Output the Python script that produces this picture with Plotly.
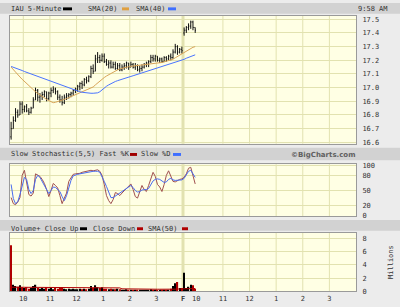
import plotly.graph_objects as go

# ---------------- data ----------------
opens = [16.64,16.70,16.76,16.82,16.80,16.88,16.84,16.86,16.83,16.82,16.85,16.91,16.98,16.93,16.94,16.95,16.97,16.92,16.96,16.98,
         16.99,16.97,16.93,16.91,16.89,16.93,16.94,16.95,16.96,16.98,16.99,17.01,17.03,17.02,17.06,17.05,17.08,17.14,17.12,17.21,
         17.22,17.20,17.23,17.19,17.17,17.18,17.15,17.17,17.14,17.16,17.13,17.15,17.16,17.18,17.15,17.17,17.15,17.16,17.13,17.14,
         17.15,17.17,17.18,17.19,17.22,17.21,17.23,17.20,17.21,17.19,17.22,17.21,17.23,17.22,17.26,17.30,17.26,17.28,
         17.40,17.42,17.44,17.45,17.48,17.44]
highs = [16.75,16.79,16.85,16.84,16.90,16.90,16.87,16.88,16.85,16.86,16.93,17.00,16.99,16.96,16.97,16.98,16.97,16.97,17.00,17.01,
         17.00,16.98,16.95,16.94,16.95,16.96,16.96,16.97,16.99,17.00,17.02,17.04,17.05,17.07,17.08,17.09,17.16,17.17,17.24,17.26,
         17.24,17.25,17.25,17.21,17.20,17.20,17.19,17.19,17.18,17.18,17.17,17.18,17.19,17.18,17.19,17.18,17.18,17.17,17.16,17.17,
         17.18,17.19,17.20,17.24,17.24,17.24,17.23,17.22,17.22,17.23,17.23,17.24,17.25,17.28,17.32,17.31,17.29,17.30,
         17.44,17.45,17.47,17.49,17.49,17.44]
lows = [16.62,16.70,16.75,16.78,16.80,16.81,16.82,16.82,16.80,16.81,16.85,16.91,16.90,16.89,16.91,16.93,16.90,16.91,16.93,16.96,
        16.95,16.91,16.89,16.87,16.88,16.91,16.92,16.93,16.94,16.96,16.97,16.98,16.99,17.01,17.03,17.04,17.07,17.10,17.12,17.18,
        17.18,17.19,17.18,17.16,17.14,17.14,17.14,17.13,17.13,17.12,17.12,17.13,17.14,17.13,17.15,17.14,17.13,17.12,17.11,17.12,
        17.14,17.15,17.15,17.18,17.19,17.19,17.19,17.18,17.18,17.19,17.19,17.20,17.20,17.21,17.25,17.24,17.25,17.25,
        17.38,17.40,17.42,17.43,17.42,17.40]
closes = [16.70,16.76,16.82,16.80,16.88,16.84,16.86,16.83,16.82,16.85,16.91,16.98,16.93,16.94,16.95,16.97,16.92,16.96,16.98,16.99,
          16.97,16.93,16.91,16.89,16.93,16.94,16.95,16.96,16.98,16.99,17.01,17.03,17.02,17.06,17.05,17.08,17.14,17.12,17.21,17.22,
          17.20,17.23,17.19,17.17,17.18,17.15,17.17,17.14,17.16,17.13,17.15,17.16,17.18,17.15,17.17,17.15,17.16,17.13,17.14,17.15,
          17.17,17.18,17.19,17.22,17.21,17.23,17.20,17.21,17.19,17.22,17.21,17.23,17.22,17.26,17.30,17.26,17.28,17.27,
          17.42,17.44,17.45,17.48,17.44,17.42]
prev_close = 16.75

sma20 = [17.150,17.130,17.112,17.095,17.078,17.061,17.045,17.028,17.012,16.996,16.982,16.970,16.958,16.946,16.935,16.924,16.914,16.905,16.897,16.890,
         16.893,16.897,16.902,16.908,16.914,16.920,16.927,16.934,16.941,16.948,16.955,16.961,16.967,16.973,16.979,16.985,16.992,17.005,17.020,17.035,
         17.050,17.062,17.074,17.085,17.095,17.105,17.114,17.122,17.130,17.137,17.142,17.146,17.150,17.153,17.156,17.158,17.160,17.162,17.164,17.165,
         17.166,17.167,17.168,17.170,17.172,17.175,17.178,17.181,17.184,17.188,17.192,17.196,17.200,17.208,17.218,17.228,17.238,17.246,
         17.258,17.268,17.278,17.287,17.295,17.300]
sma40 = [17.155,17.150,17.144,17.138,17.131,17.125,17.118,17.112,17.105,17.099,17.092,17.086,17.080,17.074,17.068,17.062,17.056,17.050,17.044,17.038,
         17.032,17.026,17.020,17.014,17.008,17.002,16.996,16.990,16.985,16.980,16.975,16.970,16.966,16.963,16.961,16.960,16.959,16.959,16.960,16.962,
         16.970,16.985,16.998,17.010,17.020,17.030,17.038,17.045,17.051,17.057,17.062,17.067,17.072,17.077,17.082,17.087,17.092,17.097,17.102,17.107,
         17.112,17.117,17.122,17.127,17.132,17.137,17.142,17.147,17.152,17.157,17.162,17.167,17.172,17.177,17.182,17.187,17.192,17.197,
         17.207,17.215,17.222,17.229,17.235,17.240]

fast_k = [36,24,22,27,36,80,90,67,42,39,45,83,80,78,72,64,52,38,50,64,
          60,55,40,24,35,45,68,76,82,83,83,84,86,87,88,88,90,89,90,91,
          88,80,62,40,30,24,32,46,44,40,45,50,54,58,63,52,38,35,50,60,
          52,48,60,75,86,78,62,57,48,62,80,89,78,68,67,70,72,73,
          76,83,94,96,80,63]
slow_d = [62,34,24,28,42,60,76,72,52,44,50,72,80,76,68,62,52,44,50,57,
          56,52,48,38,30,40,56,70,79,81,82,83,84,85,86,87,87,88,88,88,
          86,78,68,58,46,36,36,39,42,44,47,50,54,57,60,56,50,47,48,51,
          51,52,54,62,69,72,73,72,68,66,67,72,74,71,70,70,71,71,
          74,80,88,90,84,76]

volume = [7.0,1.0,0.8,0.7,0.9,0.6,0.5,0.6,0.4,0.5,0.8,1.0,0.5,0.4,0.5,0.4,0.6,0.4,0.5,0.3,
          0.5,0.4,0.5,0.6,0.4,0.3,0.4,0.3,0.4,0.3,0.3,0.4,0.3,0.4,0.3,0.4,0.8,0.5,0.9,0.6,
          0.5,0.6,0.4,0.4,0.3,0.4,0.3,0.3,0.4,0.3,0.2,0.2,0.3,0.2,0.2,0.2,0.2,0.2,0.2,0.2,
          0.2,0.2,0.2,0.3,0.2,0.2,0.2,0.2,0.2,0.2,0.2,0.2,0.4,0.8,1.2,1.4,0.5,0.5,
          2.8,0.5,0.7,1.0,0.9,0.4]
vol_sma50 = [0.62,0.62,0.62,0.62,0.61,0.61,0.61,0.61,0.60,0.60,0.60,0.60,0.60,0.59,0.59,0.59,0.59,0.58,0.58,0.58,
             0.58,0.57,0.57,0.57,0.57,0.56,0.56,0.56,0.56,0.55,0.55,0.55,0.55,0.55,0.54,0.54,0.54,0.54,0.54,0.53,
             0.53,0.53,0.53,0.53,0.52,0.52,0.52,0.52,0.51,0.51,0.37,0.36,0.36,0.35,0.35,0.34,0.34,0.34,0.33,0.33,
             0.33,0.32,0.32,0.32,0.31,0.31,0.31,0.31,0.30,0.30,0.30,0.30,0.30,0.31,0.32,0.34,0.34,0.34,
             0.39,0.39,0.40,0.41,0.42,0.42]

tick_vals = [0.5,1.5,2.5,3.5,4.5,5.5,6.5,7,8,9,10,11,12]
tick_text = ['10','11','12','1','2','3','<b>F</b>','10','11','12','1','2','3']
price_ticks = [16.6,16.7,16.8,16.9,17.0,17.1,17.2,17.3,17.4,17.5]
stoch_ticks = [0,20,50,80,100]
vol_ticks = [0,2,4,6,8]

# x position of each 5-minute bar in hours since Thursday 9:30
xs = [(i + 0.5) / 12 for i in range(len(closes))]

# ---------------- style ----------------
FONT = "DejaVu Sans Mono"
TXT = "#333333"
GRID = "#e2e2b0"
PLOTBG = "#ffffe4"
BAND = "#d2d2d2"
PAPER = "#ececec"
W, H = 400, 307

def px(x):
    return x / W

def py(y):
    return 1 - y / H

prev = [prev_close] + closes[:-1]
vol_colors = ["#000000" if c >= p else "#b00000" for c, p in zip(closes, prev)]

fig = go.Figure()
fig.add_trace(go.Ohlc(x=xs, open=opens, high=highs, low=lows, close=closes,
                      increasing_line_color="#111111", decreasing_line_color="#111111",
                      line_width=1, tickwidth=0.35, xaxis="x", yaxis="y", hoverinfo="skip"))
fig.add_trace(go.Scatter(x=xs, y=sma20, mode="lines", line=dict(color="#d8a458", width=1),
                         xaxis="x", yaxis="y", hoverinfo="skip"))
fig.add_trace(go.Scatter(x=xs, y=sma40, mode="lines", line=dict(color="#4a74ff", width=1),
                         xaxis="x", yaxis="y", hoverinfo="skip"))
fig.add_trace(go.Scatter(x=xs, y=fast_k, mode="lines", line=dict(color="#a05050", width=1),
                         xaxis="x2", yaxis="y2", hoverinfo="skip"))
fig.add_trace(go.Scatter(x=xs, y=slow_d, mode="lines", line=dict(color="#4a6cf0", width=1),
                         xaxis="x2", yaxis="y2", hoverinfo="skip"))
fig.add_trace(go.Bar(x=xs, y=volume, marker_color=vol_colors, marker_line_width=0, width=0.05,
                     xaxis="x3", yaxis="y3", hoverinfo="skip"))
fig.add_trace(go.Scatter(x=xs, y=vol_sma50, mode="lines", line=dict(color="#b00000", width=1),
                         xaxis="x3", yaxis="y3", hoverinfo="skip"))

xdom = [px(10), px(356)]
common_x = dict(range=[0, 13], domain=xdom, showgrid=False, zeroline=False, showline=True,
                mirror=True, linecolor="#9a9a9a", linewidth=1, ticks="", fixedrange=True)
common_y = dict(side="right", showgrid=True, gridcolor=GRID, gridwidth=1, zeroline=False,
                showline=True, mirror=True, linecolor="#9a9a9a", linewidth=1, ticks="",
                tickfont=dict(family=FONT, size=7, color=TXT), ticklabelstandoff=4)

fig.update_layout(
    width=W, height=H, margin=dict(l=0, r=0, t=0, b=0),
    paper_bgcolor=PAPER, plot_bgcolor=PLOTBG, showlegend=False,
    xaxis=dict(**common_x, anchor="y", showticklabels=False, rangeslider=dict(visible=False)),
    xaxis2=dict(**common_x, anchor="y2", matches="x", showticklabels=False),
    xaxis3=dict(**common_x, anchor="y3", matches="x", showticklabels=True,
                tickvals=tick_vals, ticktext=tick_text,
                tickfont=dict(family=FONT, size=7, color=TXT)),
    yaxis=dict(**common_y, anchor="x", domain=[py(144), py(13)], range=[16.59, 17.526],
               tickvals=price_ticks, tickformat=".1f"),
    yaxis2=dict(**common_y, anchor="x2", domain=[py(218), py(165)], range=[-0.5, 102],
                tickvals=stoch_ticks),
    yaxis3=dict(**common_y, anchor="x3", domain=[py(295), py(235)], range=[0, 8.9],
                tickvals=vol_ticks),
)

shapes = []
# header bands
for y0, y1 in [(0, 11), (148, 161), (222, 233)]:
    shapes.append(dict(type="rect", xref="paper", yref="paper", x0=0, x1=1, y0=py(y1), y1=py(y0),
                       fillcolor=BAND, line_width=0, layer="below"))
# vertical hour gridlines + day separator
grid_x = [0.5, 1.5, 2.5, 3.5, 4.5, 5.5, 8, 9, 10, 11, 12]
for xa, ya in [("x", "y"), ("x2", "y2"), ("x3", "y3")]:
    for gx in grid_x:
        shapes.append(dict(type="line", xref=xa, yref=ya + " domain", x0=gx, x1=gx, y0=0, y1=1,
                           line=dict(color=GRID, width=1), layer="below"))
    shapes.append(dict(type="line", xref=xa, yref=ya + " domain", x0=6.5, x1=6.5, y0=0, y1=1,
                       line=dict(color=GRID, width=3), layer="below"))

# legend swatches
def swatch(x0, x1, yc, color):
    shapes.append(dict(type="rect", xref="paper", yref="paper", x0=px(x0), x1=px(x1),
                       y0=py(yc + 1.5), y1=py(yc - 1.5), fillcolor=color, line_width=0))

swatch(63, 72, 6, "#000000")
swatch(122, 129, 6, "#e0a040")
swatch(168, 176, 6, "#3f6fff")
swatch(130, 137, 155, "#a00000")
swatch(173, 181, 155, "#3f6fff")
swatch(80, 87, 231, "#000000")
swatch(137, 143, 231, "#b00000")
swatch(182, 188, 231, "#b00000")
fig.update_layout(shapes=shapes)

def label(x, y, text, anchor="left", **kw):
    fig.add_annotation(x=px(x), y=py(y), xref="paper", yref="paper", text=text, showarrow=False,
                       xanchor=anchor, yanchor="middle", font=dict(family=FONT, size=7, color=TXT),
                       borderpad=0, **kw)

label(10, 6, "IAU 5-Minute")
label(87, 6, "SMA(20)")
label(135, 6, "SMA(40)")
label(389, 6, "9:58 AM", anchor="right")
label(10, 155, "Slow Stochastic(5,5) Fast %K")
label(140, 155, "Slow %D")
fig.add_annotation(x=px(356), y=py(155.5), xref="paper", yref="paper", text="<b>©BigCharts.com</b>",
                   showarrow=False, xanchor="right", yanchor="middle",
                   font=dict(family="DejaVu Sans", size=7, color="#606060"), borderpad=0)
label(10, 231, "Volume+ Close Up")
label(92, 231, "Close Down")
label(147, 231, "SMA(50)")
fig.add_annotation(x=px(391), y=py(265), xref="paper", yref="paper", text="Millions", textangle=-90,
                   showarrow=False, xanchor="center", yanchor="middle",
                   font=dict(family=FONT, size=7, color=TXT), borderpad=0)

fig.write_html("out.html")
